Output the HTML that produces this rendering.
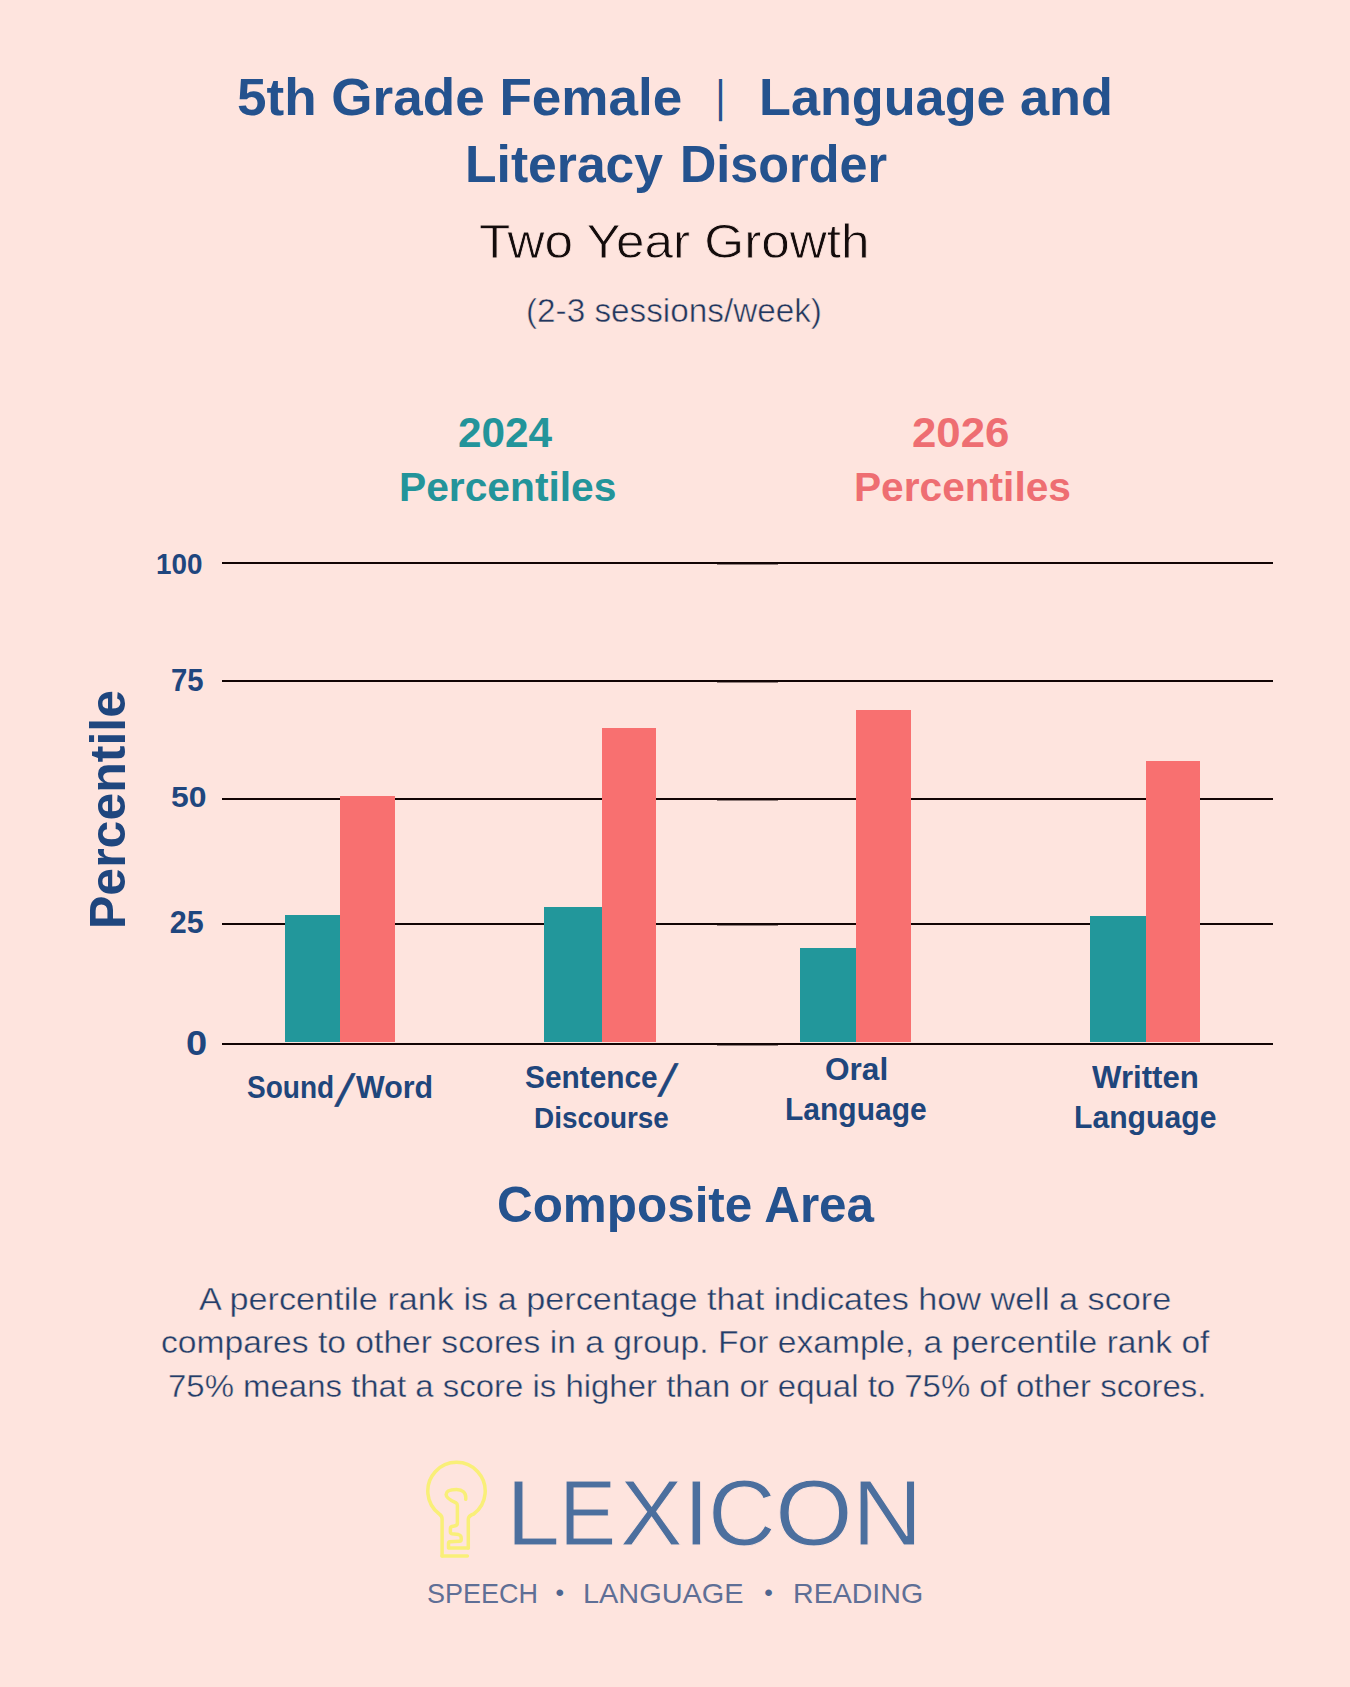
<!DOCTYPE html>
<html lang="en">
<head>
<meta charset="utf-8">
<title>5th Grade Female | Language and Literacy Disorder</title>
<style>
html,body{margin:0;padding:0;}
body{width:1350px;height:1687px;background:#fee4de;position:relative;overflow:hidden;font-family:"Liberation Sans",Arial,sans-serif;}
.t{position:absolute;white-space:nowrap;line-height:1;margin:0;}
.b{font-weight:bold;}
.title{color:#24528e;font-size:52px;font-weight:bold;}
.sub{color:#140c0c;font-size:47px;-webkit-text-stroke:0.8px #fee4de;}
.sess{color:#22365f;font-size:32px;-webkit-text-stroke:0.5px #fee4de;}
.leg{font-size:40px;font-weight:bold;}
.teal{color:#23949a;}
.coral{color:#ee6e72;}
.ax{color:#1f467e;font-size:28px;font-weight:bold;}
.cat{color:#1f467c;font-size:29px;font-weight:bold;}
.para{color:#243d6a;font-size:31px;-webkit-text-stroke:0.4px #fee4de;}
.grid{position:absolute;left:222px;width:1051px;height:2px;background:#120404;}
.gs{left:717px;width:61px;height:1px;opacity:.45;}
.bar{position:absolute;}
.bt{background:#22979b;}
.bc{background:#f87070;}
.tg{color:#5f6f96;}
.sl{font-size:44.8px;font-weight:normal;-webkit-text-stroke:0.8px #1f467c;transform-origin:0 0;transform:skewX(-13.6deg);}
.tb{color:#4f6690;font-size:24.5px;}
</style>
</head>
<body>
<div class="t title" id="t1a" style="left:237.47px;top:72.00px;font-size:51.50px;transform:scaleX(1.0302);transform-origin:0 0;">5th Grade Female</div>
<div class="t title" id="t1b" style="left:717.4px;top:72.6px;font-size:44.80px;transform:scaleX(0.55);transform-origin:0 0;">|</div>
<div class="t title" id="t1c" style="left:759.26px;top:71.80px;font-size:51.50px;transform:scaleX(1.0137);transform-origin:0 0;">Language and</div>
<div class="t title" id="t2a" style="left:464.59px;top:139.00px;font-size:51.50px;transform:scaleX(1.0026);transform-origin:0 0;">Literacy</div>
<div class="t title" id="t2b" style="left:679.77px;top:139.10px;font-size:51.50px;transform:scaleX(0.9774);transform-origin:0 0;">Disorder</div>
<div class="t sub" id="t3" style="left:479.14px;top:217.40px;font-size:48.50px;transform:scaleX(1.0575);transform-origin:0 0;">Two Year Growth</div>
<div class="t sess" id="t4" style="left:526.35px;top:295.00px;font-size:32.50px;transform:scaleX(1.0241);transform-origin:0 0;">(2-3 sessions/week)</div>

<div class="t leg teal" id="l1" style="left:457.99px;top:412.30px;font-size:42.00px;transform:scaleX(1.0075);transform-origin:0 0;">2024</div>
<div class="t leg teal" id="l2" style="left:398.96px;top:467.00px;font-size:40.00px;transform:scaleX(1.0186);transform-origin:0 0;">Percentiles</div>
<div class="t leg coral" id="l3" style="left:912.36px;top:412.00px;font-size:42.00px;transform:scaleX(1.0418);transform-origin:0 0;">2026</div>
<div class="t leg coral" id="l4" style="left:853.97px;top:467.00px;font-size:40.00px;transform:scaleX(1.0162);transform-origin:0 0;">Percentiles</div>

<!-- gridlines -->
<div class="grid" style="top:562px;"></div>
<div class="grid" style="top:680px;"></div>
<div class="grid" style="top:798px;"></div>
<div class="grid" style="top:923px;"></div>

<!-- bars -->
<div class="bar bt" style="left:285px;top:915px;width:56px;height:127px;"></div>
<div class="bar bc" style="left:340px;top:796px;width:55px;height:246px;"></div>
<div class="bar bt" style="left:544px;top:907px;width:58px;height:135px;"></div>
<div class="bar bc" style="left:602px;top:728px;width:54px;height:314px;"></div>
<div class="bar bt" style="left:800px;top:948px;width:56px;height:94px;"></div>
<div class="bar bc" style="left:856px;top:710px;width:55px;height:332px;"></div>
<div class="bar bt" style="left:1090px;top:916px;width:56px;height:126px;"></div>
<div class="bar bc" style="left:1146px;top:761px;width:54px;height:281px;"></div>
<div class="grid" style="top:1043px;"></div>
<div class="grid gs" style="top:564px;"></div><div class="grid gs" style="top:682px;"></div><div class="grid gs" style="top:800px;"></div><div class="grid gs" style="top:925px;"></div><div class="grid gs" style="top:1045px;"></div>

<!-- y labels -->
<div class="t ax" id="y100" style="left:156.46px;top:548.50px;font-size:29.50px;transform:scaleX(0.9437);transform-origin:0 0;">100</div>
<div class="t ax" id="y75" style="left:170.64px;top:664.70px;font-size:30.50px;transform:scaleX(0.9606);transform-origin:0 0;">75</div>
<div class="t ax" id="y50" style="left:170.62px;top:781.90px;font-size:29.50px;transform:scaleX(1.0806);transform-origin:0 0;">50</div>
<div class="t ax" id="y25" style="left:169.70px;top:907.30px;font-size:30.50px;transform:scaleX(1.0000);transform-origin:0 0;">25</div>
<div class="t ax" id="y0" style="left:186.33px;top:1025.50px;font-size:35.50px;transform:scaleX(1.0722);transform-origin:0 0;">0</div>

<div class="t ax" id="ylab" style="left:82.7px;top:928.6px;font-size:50px;transform-origin:0 0;transform:rotate(-90deg);">Percentile</div>

<!-- category labels -->
<div class="t cat" id="c1a" style="left:247.28px;top:1071.80px;font-size:31.00px;transform:scaleX(0.9043);transform-origin:0 0;">Sound</div><div class="t cat sl" id="c1s" style="left:344px;top:1068px;">/</div><div class="t cat" id="c1b" style="left:355.60px;top:1071.80px;font-size:31.00px;transform:scaleX(0.9805);transform-origin:0 0;">Word</div>
<div class="t cat" id="c2a" style="left:525.00px;top:1062.00px;font-size:31.00px;transform:scaleX(0.9625);transform-origin:0 0;">Sentence</div><div class="t cat sl" id="c2s" style="left:667px;top:1058px;">/</div>
<div class="t cat" id="c2b" style="left:533.84px;top:1102.90px;font-size:30.00px;transform:scaleX(0.9294);transform-origin:0 0;">Discourse</div>
<div class="t cat" id="c3a" style="left:824.68px;top:1053.80px;font-size:31.00px;transform:scaleX(1.0183);transform-origin:0 0;">Oral</div>
<div class="t cat" id="c3b" style="left:785.26px;top:1093.60px;font-size:31.00px;transform:scaleX(0.9681);transform-origin:0 0;">Language</div>
<div class="t cat" id="c4a" style="left:1091.90px;top:1062.00px;font-size:31.00px;transform:scaleX(1.0067);transform-origin:0 0;">Written</div>
<div class="t cat" id="c4b" style="left:1074.28px;top:1102.10px;font-size:31.50px;transform:scaleX(0.9575);transform-origin:0 0;">Language</div>

<div class="t title" id="ca" style="left:496.92px;top:1179.70px;font-size:50.00px;transform:scaleX(0.9882);transform-origin:0 0;">Composite Area</div>

<div class="t para" id="p1" style="left:199.40px;top:1282.90px;font-size:32.00px;transform:scaleX(1.0697);transform-origin:0 0;">A percentile rank is a percentage that indicates how well a score</div>
<div class="t para" id="p2" style="left:161.35px;top:1326.20px;font-size:32.00px;transform:scaleX(1.0507);transform-origin:0 0;">compares to other scores in a group. For example, a percentile rank of</div>
<div class="t para" id="p3" style="left:167.57px;top:1369.50px;font-size:32.00px;transform:scaleX(1.0296);transform-origin:0 0;">75% means that a score is higher than or equal to 75% of other scores.</div>

<!-- logo -->
<svg style="position:absolute;left:0;top:0;" width="1350" height="1687" viewBox="0 0 1350 1687">
<g fill="none" stroke="#f9ef78" stroke-width="3.5" stroke-linejoin="round" stroke-linecap="round">
<path d="M442.1 1556 L442.1 1519 Q442.1 1516 439.3 1514 A28.7 28.7 0 1 1 473.7 1514 Q468.3 1516 468.3 1519 L468.3 1548"/>
<path d="M442.1 1556 L467.4 1556"/>
<path d="M465.7 1499.3 C466.5 1492 462 1489.6 456.5 1489.6 C450 1489.6 446.1 1491.5 446.1 1494.5 C446.1 1498.5 452 1501 456 1502.8 Q457.4 1503.5 457.4 1505.5 L457.4 1523 Q457.4 1525.5 454.5 1526 L452 1526.4 Q450.4 1526.8 450.4 1528.5 L450.4 1532 Q450.4 1533.5 452 1533.8 L458.5 1534.6 Q461.2 1535.3 461.2 1538 L461.2 1539.5 Q461.2 1541.2 459.5 1541.3 L450 1541.8 Q448.5 1542 448.5 1543.5 L448.5 1548 L468.3 1548"/>
</g>
</svg>
<div id="lex" style="position:absolute;left:0;top:0;font-size:91px;color:#4c6f9e;-webkit-text-stroke:1px #fee4de;"><span class="t" id="lx1" style="left:505.95px;top:1466.61px;font-size:92.50px;transform:scaleX(1.0512);transform-origin:0 0;">L</span><span class="t" id="lx2" style="left:558.78px;top:1466.61px;font-size:92.50px;transform:scaleX(0.9286);transform-origin:0 0;">E</span><span class="t" id="lx3" style="left:619.73px;top:1466.61px;font-size:92.50px;transform:scaleX(1.0143);transform-origin:0 0;">X</span><span class="t" id="lx4" style="left:683.47px;top:1466.61px;font-size:92.50px;transform:scaleX(1.0000);transform-origin:0 0;">I</span><span class="t" id="lx5" style="left:708.30px;top:1466.61px;font-size:92.50px;transform:scaleX(1.0121);transform-origin:0 0;">C</span><span class="t" id="lx6" style="left:774.68px;top:1466.61px;font-size:92.50px;transform:scaleX(1.0806);transform-origin:0 0;">O</span><span class="t" id="lx7" style="left:851.55px;top:1466.61px;font-size:92.50px;transform:scaleX(1.0569);transform-origin:0 0;">N</span></div>
<div class="t tg" id="tg1" style="left:426.74px;top:1579.70px;font-size:28.00px;transform:scaleX(0.9628);transform-origin:0 0;">SPEECH</div>
<div class="t tg tb" id="tb1" style="left:555.5px;top:1580.7px;">•</div>
<div class="t tg" id="tg2" style="left:583.24px;top:1579.70px;font-size:28.00px;transform:scaleX(1.0320);transform-origin:0 0;">LANGUAGE</div>
<div class="t tg tb" id="tb2" style="left:764.2px;top:1580.7px;">•</div>
<div class="t tg" id="tg3" style="left:792.76px;top:1579.70px;font-size:28.00px;transform:scaleX(1.0202);transform-origin:0 0;">READING</div>
</body>
</html>
